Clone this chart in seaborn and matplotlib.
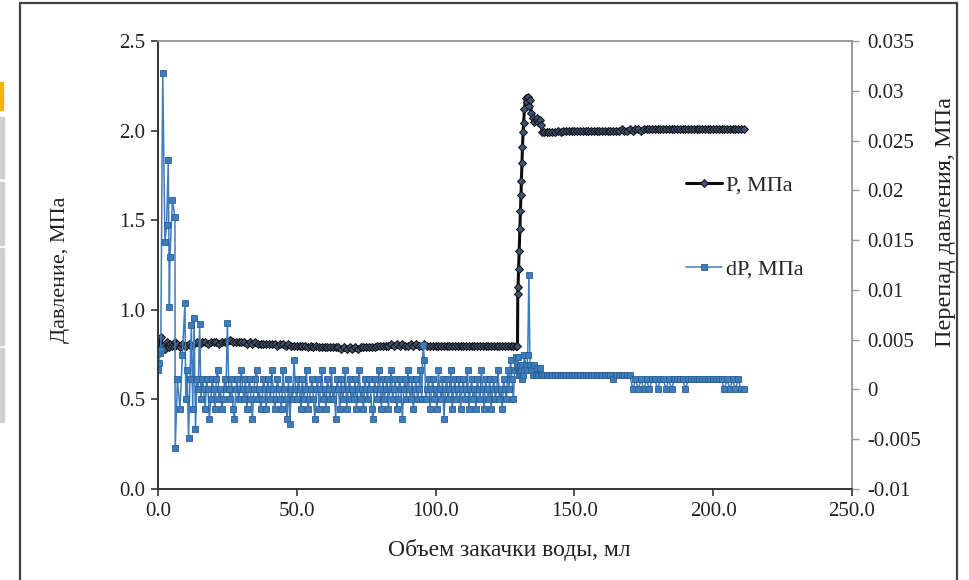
import numpy as np
import pandas as pd
import seaborn as sns
import matplotlib.pyplot as plt
from matplotlib.patches import Rectangle

# injected volume, ml (start of test, steady grid, jump, plateau)
vol_start = [0.0, 0.3, 0.6, 1.0, 1.7, 2.5, 3.1, 3.7, 4.1, 4.3, 5.2, 6.1, 6.2, 7.0, 7.9, 8.8, 9.7]
vol_mid = list(range(10, 130))
vol_mid_dp = list(np.arange(10.0, 130.0, 0.5))  # dP was logged every 0.5 ml
vol_jump = [129.5, 129.6, 129.7, 129.9, 130.1, 130.3, 130.5, 130.7, 130.9, 131.1, 131.3, 131.5,
            131.7, 132.0, 132.4, 132.8, 133.2, 133.6, 134.0, 134.5, 135.0, 135.5, 136.0, 136.5,
            137.0, 137.5, 138.0, 138.5]
vol_tail = list(range(139, 212))

# pressure P, MPa
p_start = [0.78, 0.76, 0.79, 0.85, 0.80, 0.78, 0.82, 0.80, 0.79, 0.81, 0.80, 0.82, 0.80, 0.81, 0.79, 0.81, 0.80]
p_mid = [0.80, 0.81, 0.80, 0.81, 0.82, 0.81, 0.82, 0.82, 0.81, 0.82,
         0.82, 0.82, 0.81, 0.82, 0.82, 0.82, 0.83, 0.82, 0.82, 0.82,
         0.82, 0.82, 0.81, 0.82, 0.81, 0.82, 0.81, 0.81, 0.81, 0.81,
         0.81, 0.81, 0.81, 0.80, 0.81, 0.81, 0.80, 0.81, 0.80, 0.80,
         0.80, 0.80, 0.80, 0.80, 0.79, 0.80, 0.79, 0.80, 0.79, 0.79,
         0.79, 0.79, 0.79, 0.79, 0.79, 0.79, 0.78, 0.79, 0.78, 0.79,
         0.78, 0.79, 0.78, 0.79, 0.79, 0.79, 0.79, 0.79, 0.79, 0.80,
         0.80, 0.80, 0.80, 0.80, 0.81, 0.80, 0.81, 0.80, 0.81, 0.80,
         0.80, 0.81, 0.80, 0.81, 0.80, 0.80, 0.81, 0.80, 0.80, 0.80,
         0.80, 0.80, 0.80, 0.80, 0.80, 0.80, 0.80, 0.80, 0.80, 0.80,
         0.80, 0.80, 0.80, 0.80, 0.80, 0.80, 0.80, 0.80, 0.80, 0.80,
         0.80, 0.80, 0.80, 0.80, 0.80, 0.80, 0.80, 0.80, 0.80, 0.80]
p_jump = [0.80, 1.09, 1.13, 1.23, 1.33, 1.45, 1.55, 1.64, 1.72, 1.82, 1.91, 1.99,
          2.04, 2.12, 2.18, 2.16, 2.19, 2.14, 2.17, 2.10, 2.07, 2.05, 2.06, 2.07,
          2.05, 2.06, 2.03, 1.99]
p_tail = [1.99, 1.99, 1.99, 1.99, 1.99, 2.00, 1.99, 2.00, 2.00, 2.00,
          2.00, 2.00, 2.00, 2.00, 2.00, 2.00, 2.00, 2.00, 2.00, 2.00,
          2.00, 2.00, 2.00, 2.00, 2.00, 2.00, 2.00, 2.00, 2.01, 2.00,
          2.00, 2.01, 2.00, 2.01, 2.01, 2.00, 2.01, 2.01, 2.01, 2.01,
          2.01, 2.01, 2.01, 2.01, 2.01, 2.01, 2.01, 2.01, 2.01, 2.01,
          2.01, 2.01, 2.01, 2.01, 2.01, 2.01, 2.01, 2.01, 2.01, 2.01,
          2.01, 2.01, 2.01, 2.01, 2.01, 2.01, 2.01, 2.01, 2.01, 2.01,
          2.01, 2.01, 2.01]

# pressure drop dP, MPa
dp_start = [0.002, 0.0027, 0.0037, 0.004, 0.0318, 0.0148, 0.0165, 0.023, 0.0083, 0.0133,
            0.019, 0.0173, -0.0059, 0.001, -0.002, 0.0035, 0.0087]
dp_mid = [-0.001, 0.002, -0.0049, 0.001, 0.0065, -0.002, 0.0072, -0.004, 0.001, 0.0,
          0.0066, -0.001, 0.001, 0.0, -0.002, 0.001, 0.0, -0.003, -0.001, 0.001,
          0.0, -0.002, 0.001, 0.002, -0.001, 0.0, -0.002, -0.001, 0.001, 0.0,
          0.0067, 0.0, -0.001, 0.001, -0.002, -0.003, 0.0, 0.001, -0.001, 0.0,
          0.002, 0.0, -0.001, 0.001, -0.002, 0.0, 0.001, -0.001, -0.003, 0.0,
          0.001, 0.002, -0.001, 0.0, -0.002, -0.001, 0.001, 0.0, -0.002, 0.001,
          0.0, -0.001, 0.002, 0.0, -0.002, -0.001, 0.001, 0.0, -0.001, -0.002,
          0.002, 0.0, -0.001, -0.003, 0.001, -0.0035, 0.0, -0.001, 0.003, 0.0,
          -0.001, 0.001, 0.0, -0.002, 0.001, -0.001, 0.0, 0.002, -0.002, -0.001,
          0.0, 0.001, -0.001, -0.003, 0.0, 0.001, -0.002, 0.0, 0.002, -0.001,
          0.0, -0.002, 0.001, 0.0, -0.001, 0.002, -0.001, 0.0, -0.003, 0.001,
          0.0, -0.002, 0.001, -0.001, 0.0, 0.002, -0.002, 0.0, 0.001, -0.001,
          0.0, -0.001, 0.001, -0.002, 0.0, 0.002, -0.001, 0.0, -0.002, 0.001,
          0.0, -0.001, 0.001, 0.0, -0.002, -0.003, 0.001, 0.0, -0.001, 0.002,
          0.0, -0.002, 0.001, -0.001, 0.0, 0.001, -0.002, 0.0, 0.002, -0.001,
          0.0, 0.001, -0.002, -0.001, 0.001, 0.0, -0.003, 0.0, 0.001, -0.001,
          0.002, 0.0, -0.001, 0.001, -0.002, 0.0, 0.001, -0.001, 0.0, 0.002,
          -0.001, 0.0045, 0.003, -0.001, 0.0, 0.001, -0.002, 0.0, 0.001, -0.001,
          0.0, -0.002, 0.002, 0.0, -0.001, 0.001, -0.003, 0.0, 0.001, -0.001,
          0.0, 0.002, -0.002, 0.0, 0.001, -0.001, 0.0, 0.001, -0.002, 0.0,
          0.001, -0.001, 0.0, 0.002, -0.002, 0.0, 0.001, -0.001, 0.0, -0.002,
          0.001, 0.0, -0.001, 0.002, 0.0, -0.002, 0.001, 0.0, -0.001, 0.001,
          -0.002, 0.0, 0.001, -0.001, 0.0, 0.002, -0.001, 0.0, -0.002, 0.001,
          0.0, -0.001, 0.002, 0.0, 0.003, 0.001, -0.001, 0.002, 0.0033, 0.0023]
dp_jump = [0.0023, 0.0033, 0.002, 0.0015, 0.002, 0.0025, 0.0015, 0.002, 0.001,
           0.0025, 0.0015, 0.002, 0.0035, 0.0025, 0.002, 0.0035, 0.0115, 0.0025, 0.002,
           0.0015, 0.0025, 0.0015, 0.0022, 0.0015, 0.0022, 0.0015, 0.0015]
dp_tail = [0.0015, 0.0015, 0.0015, 0.0015, 0.0015, 0.0015, 0.0015, 0.0015, 0.0015, 0.0015,
           0.0015, 0.0015, 0.0015, 0.0015, 0.0015, 0.0015, 0.0015, 0.0015, 0.0015, 0.0015,
           0.0015, 0.0015, 0.0015, 0.0015, 0.0015, 0.001, 0.0015, 0.0015, 0.0015, 0.0015,
           0.0015, 0.0015, 0.0, 0.001, 0.0, 0.001, 0.0, 0.001, 0.0, 0.001,
           0.001, 0.0, 0.001, 0.001, 0.0, 0.001, 0.0, 0.001, 0.001, 0.001,
           0.001, 0.0, 0.001, 0.001, 0.001, 0.001, 0.001, 0.001, 0.001, 0.001,
           0.001, 0.001, 0.001, 0.001, 0.001, 0.0, 0.001, 0.0, 0.001, 0.0,
           0.001, 0.0, 0.0]

left_ticks = [0.0, 0.5, 1.0, 1.5, 2.0, 2.5]
right_ticks = [-0.01, -0.005, 0, 0.005, 0.01, 0.015, 0.02, 0.025, 0.03, 0.035]
right_labels = ['-0.01', '-0.005', '0', '0.005', '0.01', '0.015', '0.02', '0.025', '0.03', '0.035']
x_ticks = [0, 50, 100, 150, 200, 250]

df_p = pd.DataFrame({'vol': vol_start + vol_mid + vol_jump + vol_tail,
                     'P': p_start + p_mid + p_jump + p_tail})
df_dp = pd.DataFrame({'vol': vol_start + vol_mid_dp + vol_jump[1:] + vol_tail,
                      'dP': dp_start + dp_mid + dp_jump + dp_tail})

sns.set_style('ticks')
plt.rcParams['font.family'] = ['Liberation Serif', 'DejaVu Serif']
fs = 15

fig = plt.figure(figsize=(9.69, 5.80), dpi=100)
ax = fig.add_axes([158 / 969, 1 - 489 / 580, 694 / 969, 448 / 580])
ax2 = ax.twinx()

sns.lineplot(data=df_p, x='vol', y='P', ax=ax, estimator=None, sort=False,
             color='#0d0d0d', linewidth=2.2, marker='D', markersize=4,
             markerfacecolor='#3e5272', markeredgecolor='#111111', markeredgewidth=0.7,
             label='P, МПа', legend=False)
sns.lineplot(data=df_dp, x='vol', y='dP', ax=ax2, estimator=None, sort=False,
             color='#3f7cbc', linewidth=1.1, marker='s', markersize=4.4,
             markerfacecolor='#3f7cbc', markeredgecolor='#2a5f96', markeredgewidth=0.6,
             label='dP, МПа', legend=False)

ax.set_xlim(0, 250)
ax.set_ylim(0, 2.5)
ax2.set_ylim(-0.01, 0.035)
ax.set_xticks(x_ticks)
ax.set_xticklabels([f'{v:.1f}' for v in x_ticks], fontsize=fs, color='#222222')
ax.set_yticks(left_ticks)
ax.set_yticklabels([f'{v:.1f}' for v in left_ticks], fontsize=fs, color='#222222')
ax2.set_yticks(right_ticks)
ax2.set_yticklabels(right_labels, fontsize=fs, color='#222222')

ax.set_xlabel('Объем закачки воды, мл', fontsize=17, color='#222222')
ax.set_ylabel('Давление, МПа', fontsize=16, color='#222222')
ax2.set_ylabel('Перепад давления, МПа', fontsize=17.5, color='#222222')
ax.xaxis.set_label_coords(0.506, -0.112)
ax.yaxis.set_label_coords(-0.127, 0.49)
ax2.yaxis.set_label_coords(1.12, 0.596)

for a in (ax, ax2):
    a.grid(False)
    a.spines['left'].set_color('#333333')
    a.spines['bottom'].set_color('#333333')
    a.spines['top'].set_visible(True)
    a.spines['top'].set_color('#9a9a9a')
    a.spines['right'].set_color('#9a9a9a')
    for s in a.spines.values():
        s.set_linewidth(1.2)
ax.tick_params(axis='both', direction='out', length=5, width=1.2, color='#333333', pad=4)
ax2.tick_params(axis='y', direction='out', length=5, width=1.0, color='#9a9a9a', pad=6)

h1, l1 = ax.get_legend_handles_labels()
h2, l2 = ax2.get_legend_handles_labels()
ax2.legend(h1 + h2, l1 + l2, loc='upper left', bbox_to_anchor=(666 / 969, 1 - 155 / 580),
           bbox_transform=fig.transFigure, frameon=False, fontsize=16,
           labelspacing=2.86, handlelength=1.6, handletextpad=0.2)

# page frame and side artefacts of the screenshot
fig.patches.append(Rectangle((20 / 969, -0.02), 937 / 969, 1.02 - 3 / 580,
                             transform=fig.transFigure, fill=False,
                             edgecolor='#444444', linewidth=1.6))
fig.patches.append(Rectangle((0, 1 - 110 / 580), 3 / 969, 28 / 580,
                             transform=fig.transFigure, color='#f2b400'))
for top, bot in [(117, 178), (182, 245), (248, 345), (348, 422)]:
    fig.patches.append(Rectangle((0, 1 - bot / 580), 4 / 969, (bot - top) / 580,
                                 transform=fig.transFigure, color='#cfcfcf'))

fig.savefig('out.png', dpi=100)
